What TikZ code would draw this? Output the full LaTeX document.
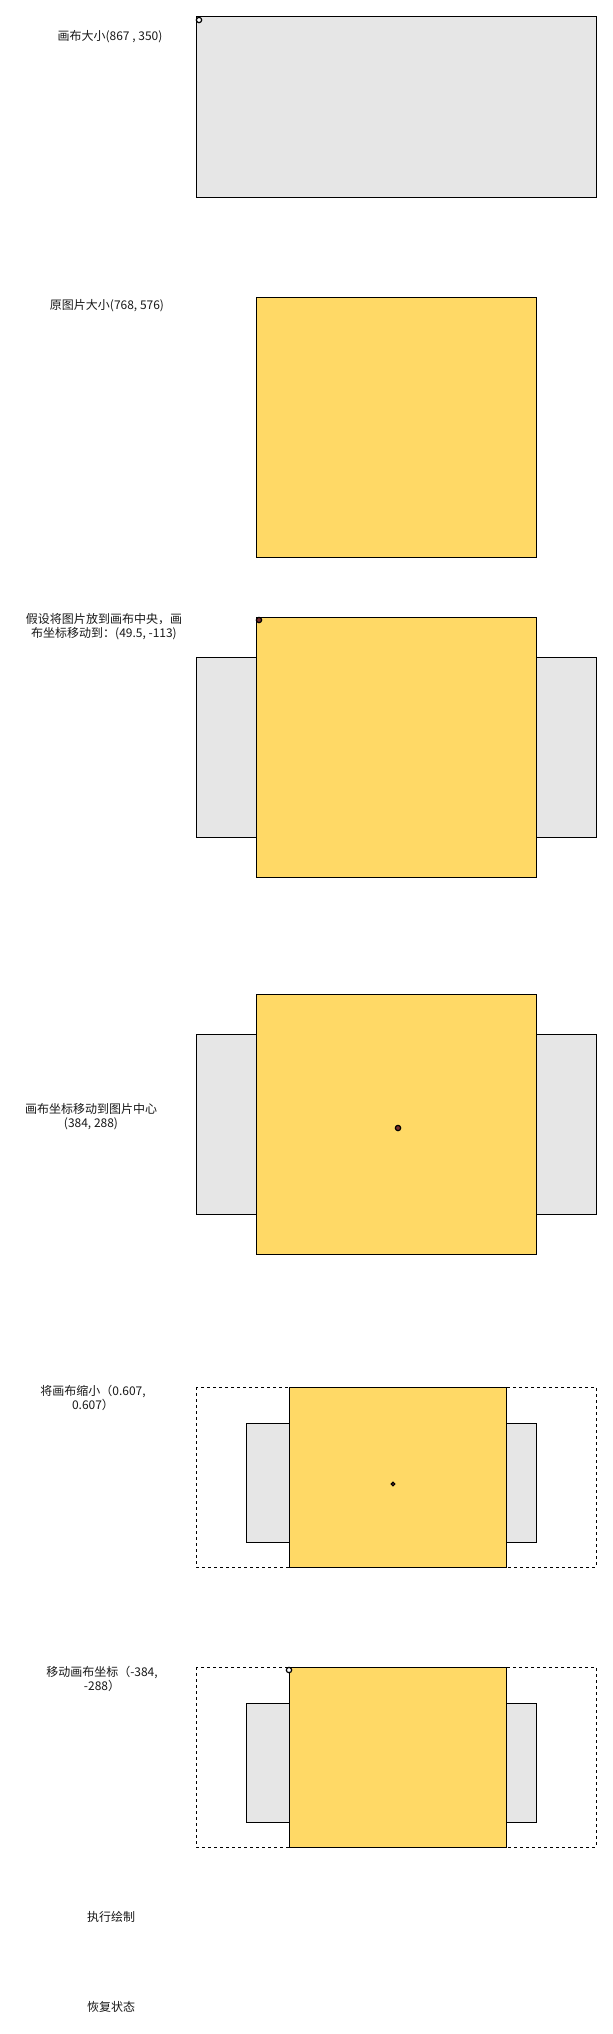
\documentclass[tikz,border=0pt]{standalone}
\usepackage{fontspec}
\setmainfont{Noto Sans CJK SC}
\definecolor{canvasgrey}{HTML}{E6E6E6}
\definecolor{imgyellow}{HTML}{FFD966}
\definecolor{dotred}{HTML}{7A2E2E}
\begin{document}
\begin{tikzpicture}[x=0.75pt,y=-0.75pt,
  canvas/.style={draw=black,fill=canvasgrey,line width=0.75pt},
  img/.style={draw=black,fill=imgyellow,line width=0.75pt},
  frame/.style={draw=black,line width=0.6pt,dash pattern=on 2.25pt off 2.25pt},
  lbl/.style={font=\fontsize{9pt}{10.5pt}\selectfont,align=center,inner sep=0pt,text=black!90},
  origin/.style={draw=black,line width=0.9pt,fill=white},
  origindark/.style={draw=black,line width=0.9pt,fill=dotred}]
\useasboundingbox (0,0) rectangle (613,2034);
\fill[white] (0,0) rectangle (613,2034);
% 1
\node[lbl] (l1) at (110,37) {画布大小(867 , 350)};
\draw[canvas] (196,17) rectangle (596,197);
\draw[origin] (199,20) circle (2pt);
% 2
\node[lbl] (l2) at (107,306) {原图片大小(768, 576)};
\draw[img] (256,297) rectangle (536,557);
% 3
\node[lbl] (l3) at (104,627) {假设将图片放到画布中央，画\\布坐标移动到：(49.5, -113)};
\draw[canvas] (196,657) rectangle (596,837);
\draw[img] (256,617) rectangle (536,877);
\draw[origindark] (259,620) circle (2pt);
% 4
\node[lbl] (l4) at (91,1117) {画布坐标移动到图片中心\\(384, 288)};
\draw[canvas] (196,1034) rectangle (596,1214);
\draw[img] (256,994) rectangle (536,1254);
\draw[origindark] (398,1128) circle (2pt);
% 5
\node[lbl] (l5) at (93,1398) {将画布缩小（0.607,\\0.607）};
\draw[frame] (196,1387) rectangle (596,1567);
\draw[canvas] (246,1423) rectangle (536,1542);
\draw[img] (289,1387) rectangle (506,1567);
\draw[origindark] (393,1484) circle (1.4pt);
% 6
\node[lbl] (l6) at (102,1679) {移动画布坐标（-384,\\-288）};
\draw[frame] (196,1667) rectangle (596,1847);
\draw[canvas] (246,1703) rectangle (536,1822);
\draw[img] (289,1667) rectangle (506,1847);
\draw[origin] (289,1670) circle (2pt);
% 7, 8
\node[lbl] (l7) at (111,1917) {执行绘制};
\node[lbl] (l8) at (111,2007) {恢复状态};
\end{tikzpicture}
\end{document}
